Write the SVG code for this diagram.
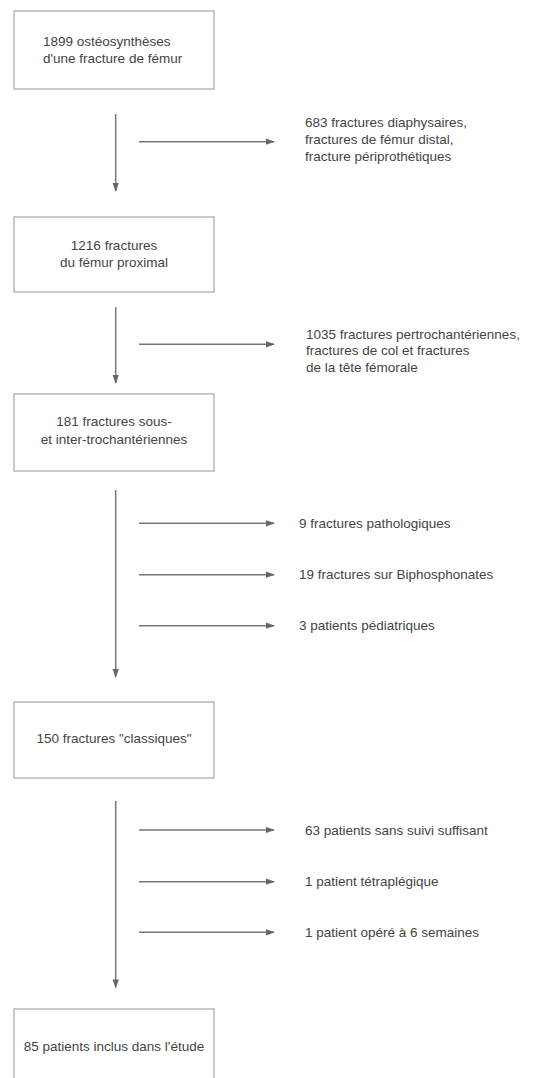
<svg xmlns="http://www.w3.org/2000/svg" width="537" height="1078" viewBox="0 0 537 1078">
<style>
.box{fill:#fff;stroke:#b8b8b8;stroke-width:1.5}
.t{font-family:"Liberation Sans",Arial,sans-serif;font-size:13.5px;fill:#444}
.c{text-anchor:middle}
.ln{stroke:#777;stroke-width:1.5;fill:none;marker-end:url(#ah)}
</style>
<defs>
<marker id="ah" viewBox="0 0 10 10" refX="9" refY="5" markerWidth="6" markerHeight="6" orient="auto" markerUnits="strokeWidth">
<path d="M0,1.5 L10,5 L0,8.5 z" fill="#666"/>
</marker>
</defs>
<rect width="537" height="1078" fill="#fff"/>
<g id="n1"><rect class="box" x="14" y="11" width="200" height="78"/>
<text class="t" x="43" y="46">1899 ostéosynthèses</text>
<text class="t" x="43" y="63">d'une fracture de fémur</text></g>
<g id="n2"><rect class="box" x="14" y="217" width="200" height="75"/>
<text class="t c" x="114" y="249.5">1216 fractures</text>
<text class="t c" x="114" y="266.5">du fémur proximal</text></g>
<g id="n3"><rect class="box" x="14" y="394" width="200" height="77"/>
<text class="t c" x="114" y="426">181 fractures sous-</text>
<text class="t c" x="114" y="444">et inter-trochantériennes</text></g>
<g id="n4"><rect class="box" x="14" y="702" width="200" height="76"/>
<text class="t c" x="114" y="743">150 fractures "classiques"</text></g>
<g id="n5"><rect class="box" x="14" y="1009" width="200" height="80"/>
<text class="t c" x="114" y="1051">85 patients inclus dans l'étude</text></g>
<g id="e1"><text class="t" x="305" y="127">683 fractures diaphysaires,</text>
<text class="t" x="305" y="144">fractures de fémur distal,</text>
<text class="t" x="305" y="161">fracture périprothétiques</text></g>
<g id="e2"><text class="t" x="306" y="338.5">1035 fractures pertrochantériennes,</text>
<text class="t" x="306" y="355">fractures de col et fractures</text>
<text class="t" x="306" y="371.5">de la tête fémorale</text></g>
<g id="e3"><text class="t" x="299" y="528">9 fractures pathologiques</text>
<text class="t" x="299" y="579">19 fractures sur Biphosphonates</text>
<text class="t" x="299" y="630">3 patients pédiatriques</text></g>
<g id="e4"><text class="t" x="305" y="835">63 patients sans suivi suffisant</text>
<text class="t" x="305" y="886">1 patient tétraplégique</text>
<text class="t" x="305" y="937">1 patient opéré à 6 semaines</text></g>
<g id="connectors">
<line class="ln" x1="115.7" y1="114" x2="115.7" y2="191"/>
<line class="ln" x1="139" y1="141.7" x2="274" y2="141.7"/>
<line class="ln" x1="115.7" y1="307" x2="115.7" y2="383"/>
<line class="ln" x1="139" y1="344.3" x2="274" y2="344.3"/>
<line class="ln" x1="115.7" y1="490" x2="115.7" y2="677"/>
<line class="ln" x1="139" y1="523.3" x2="274" y2="523.3"/>
<line class="ln" x1="139" y1="574.7" x2="274" y2="574.7"/>
<line class="ln" x1="139" y1="625.7" x2="274" y2="625.7"/>
<line class="ln" x1="115.7" y1="801" x2="115.7" y2="987.5"/>
<line class="ln" x1="139" y1="830" x2="274" y2="830"/>
<line class="ln" x1="139" y1="881.7" x2="274" y2="881.7"/>
<line class="ln" x1="139" y1="932.3" x2="274" y2="932.3"/>
</g>
</svg>
